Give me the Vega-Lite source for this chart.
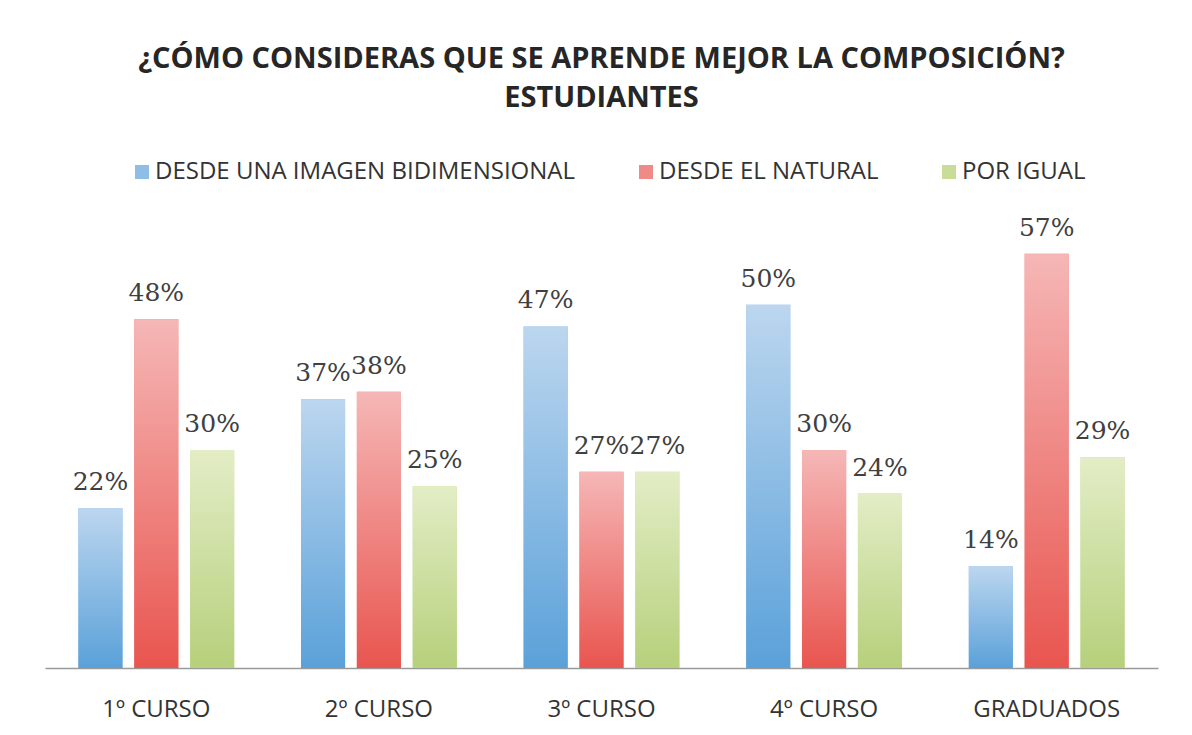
{
  "$schema": "https://vega.github.io/schema/vega-lite/v6.json",
  "width": 1113,
  "height": 436,
  "autosize": {"type": "none"},
  "padding": {"left": 45, "top": 232, "right": 34, "bottom": 67},
  "background": "white",
  "title": {
    "text": ["¿CÓMO CONSIDERAS QUE SE APRENDE MEJOR LA COMPOSICIÓN?", "ESTUDIANTES"],
    "anchor": "middle",
    "font": "Open Sans",
    "fontSize": 29,
    "fontWeight": "bold",
    "color": "#262626",
    "lineHeight": 39,
    "offset": 47
  },
  "data": {
    "values": [
      {"curso": "1º CURSO", "serie": "DESDE UNA IMAGEN BIDIMENSIONAL", "pct": 0.22},
      {"curso": "1º CURSO", "serie": "DESDE EL NATURAL", "pct": 0.48},
      {"curso": "1º CURSO", "serie": "POR IGUAL", "pct": 0.30},
      {"curso": "2º  CURSO", "serie": "DESDE UNA IMAGEN BIDIMENSIONAL", "pct": 0.37},
      {"curso": "2º  CURSO", "serie": "DESDE EL NATURAL", "pct": 0.38},
      {"curso": "2º  CURSO", "serie": "POR IGUAL", "pct": 0.25},
      {"curso": "3º  CURSO", "serie": "DESDE UNA IMAGEN BIDIMENSIONAL", "pct": 0.47},
      {"curso": "3º  CURSO", "serie": "DESDE EL NATURAL", "pct": 0.27},
      {"curso": "3º  CURSO", "serie": "POR IGUAL", "pct": 0.27},
      {"curso": "4º CURSO", "serie": "DESDE UNA IMAGEN BIDIMENSIONAL", "pct": 0.50},
      {"curso": "4º CURSO", "serie": "DESDE EL NATURAL", "pct": 0.30},
      {"curso": "4º CURSO", "serie": "POR IGUAL", "pct": 0.24},
      {"curso": "GRADUADOS", "serie": "DESDE UNA IMAGEN BIDIMENSIONAL", "pct": 0.14},
      {"curso": "GRADUADOS", "serie": "DESDE EL NATURAL", "pct": 0.57},
      {"curso": "GRADUADOS", "serie": "POR IGUAL", "pct": 0.29}
    ]
  },
  "encoding": {
    "x": {
      "field": "curso", "type": "nominal", "sort": null, "title": null,
      "scale": {"paddingInner": 0.30, "paddingOuter": 0.15},
      "axis": {
        "labelAngle": 0, "labelFont": "Open Sans", "labelFontSize": 24, "labelColor": "#333333",
        "labelPadding": 29, "labelLimit": 0, "ticks": false, "domainColor": "#9a9a9a", "domainWidth": 1.5
      }
    },
    "xOffset": {
      "field": "serie", "type": "nominal",
      "sort": ["DESDE UNA IMAGEN BIDIMENSIONAL", "DESDE EL NATURAL", "POR IGUAL"],
      "scale": {"paddingInner": 0.21}
    },
    "y": {
      "field": "pct", "type": "quantitative",
      "scale": {"domain": [0, 0.6], "nice": false},
      "axis": null
    }
  },
  "layer": [
    {
      "mark": {"type": "bar"},
      "encoding": {
        "color": {
          "field": "serie", "type": "nominal",
          "sort": ["DESDE UNA IMAGEN BIDIMENSIONAL", "DESDE EL NATURAL", "POR IGUAL"],
          "scale": {
            "domain": ["DESDE UNA IMAGEN BIDIMENSIONAL", "DESDE EL NATURAL", "POR IGUAL"],
            "range": ["#8ebde6", "#f08a86", "#c9dc98"]
          },
          "legend": {
            "title": null,
            "orient": "none",
            "direction": "horizontal",
            "legendX": 85,
            "legendY": -72,
            "symbolType": "square",
            "symbolSize": 196,
            "symbolStrokeWidth": 0,
            "symbolOpacity": 1,
            "labelFont": "Open Sans",
            "labelFontSize": 24,
            "labelColor": "#333333",
            "labelLimit": 0,
            "columnPadding": 58,
            "labelOffset": 1
          }
        }
      }
    },
    {
      "transform": [{"filter": "datum.serie === 'DESDE UNA IMAGEN BIDIMENSIONAL'"}],
      "mark": {"type": "bar", "color": {"gradient": "linear", "x1": 0, "y1": 0, "x2": 0, "y2": 1, "stops": [{"offset": 0, "color": "#bcd6ef"}, {"offset": 1, "color": "#5aa1d9"}]}}
    },
    {
      "transform": [{"filter": "datum.serie === 'DESDE EL NATURAL'"}],
      "mark": {"type": "bar", "color": {"gradient": "linear", "x1": 0, "y1": 0, "x2": 0, "y2": 1, "stops": [{"offset": 0, "color": "#f5b7b6"}, {"offset": 1, "color": "#e9554f"}]}}
    },
    {
      "transform": [{"filter": "datum.serie === 'POR IGUAL'"}],
      "mark": {"type": "bar", "color": {"gradient": "linear", "x1": 0, "y1": 0, "x2": 0, "y2": 1, "stops": [{"offset": 0, "color": "#e3edc6"}, {"offset": 1, "color": "#b6d07b"}]}}
    },
    {
      "mark": {"type": "text", "baseline": "bottom", "dy": -13, "font": "DejaVu Serif", "fontSize": 25, "color": "#404040"},
      "encoding": {
        "text": {"field": "pct", "type": "quantitative", "format": ".0%"},
        "detail": {"field": "serie"}
      }
    }
  ],
  "config": {
    "view": {"stroke": null}
  }
}
